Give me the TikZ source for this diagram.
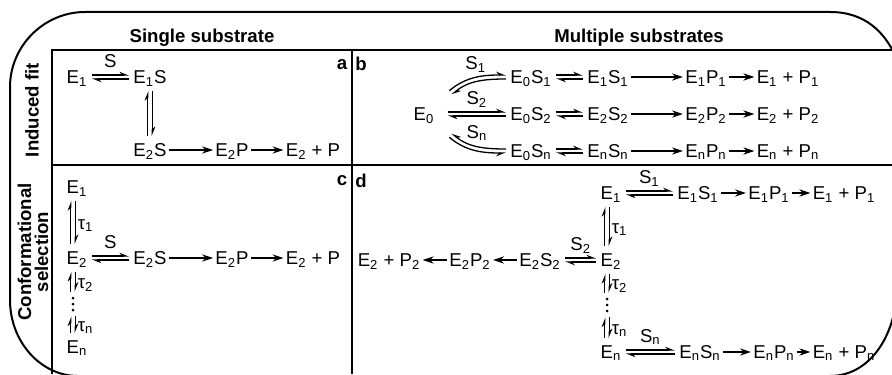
\documentclass[tikz,border=0pt]{standalone}
\usepackage{fontspec}
\setmainfont{Liberation Sans}
\usetikzlibrary{arrows.meta}
\newcommand{\sbs}[1]{\textsubscript{#1}}
\tikzstyle{sp} = [inner sep=1pt, text height=8pt, text depth=1.5pt]
\tikzstyle{lbl} = [inner sep=1pt, text height=8pt, text depth=1.5pt]
\tikzstyle{hdr} = [font=\fontsize{9.3}{11}\selectfont\bfseries]
\tikzstyle{fwd} = [-{Stealth[length=5.5pt, width=3.6pt]}, line width=0.65pt]
\tikzstyle{eq} = [-{Stealth[harpoon, length=4pt, width=3.2pt]}, line width=0.65pt, shorten <=1pt, shorten >=1pt]
\tikzstyle{eqs} = [-{Stealth[harpoon, swap, length=4pt, width=3.2pt]}, line width=0.65pt, shorten <=1pt, shorten >=1pt]
\tikzstyle{rim} = [line width=1pt]
\tikzstyle{tab} = [line width=1pt]

\begin{document}
\begin{tikzpicture}[x=0.5pt, y=0.5pt, every node/.style={font=\fontsize{9.3}{11}\selectfont}]
                \useasboundingbox (0,0) rectangle (892,-374);
                \clip (0,0) rectangle (892,-374);
                % outer frame and table
                \draw[rim] (897,-285) .. controls (897,-335) and (870,-376) .. (830,-376) -- (78,-376)
                    .. controls (41,-376) and (10,-342) .. (10,-300) -- (10,-87)
                    .. controls (10,-46) and (44,-12) .. (85,-12) -- (830,-12)
                    .. controls (865,-12) and (884,-32) .. (895,-55);
                \draw[tab] (52,-374) -- (52,-50) -- (892,-50);
                \draw[tab] (52,-165) -- (892,-165);
                \draw[tab] (352,-50) -- (352,-374);

                \node[hdr] (hs) at (202,-38) {Single substrate};
                \node[hdr] (hm) at (639,-38) {Multiple substrates};
                \node[hdr, rotate=90] (hi) at (32,-110) {Induced fit};
                \node[hdr, rotate=90, align=center, font=\fontsize{9.3}{8.6}\selectfont\bfseries] (hc) at (33,-252) {Conformational\\selection};
                \node[hdr] (la) at (342,-65) {a};
                \node[hdr] (lb) at (361,-64) {b};
                \node[hdr] (lc) at (342,-181) {c};
                \node[hdr] (ld) at (361,-181) {d};

                % a
                \node[sp] (a1) at (77,-77) {E\sbs{1}};
                \node[sp] (a1s) at (150,-77) {E\sbs{1}S};
                \node[sp] (a2s) at (150,-150) {E\sbs{2}S};
                \node[sp] (a2p) at (232,-150) {E\sbs{2}P};
                \node[sp] (a2f) at (313,-150) {E\sbs{2} + P};
                \draw[eq] ([yshift=1pt]a1.east) -- node[lbl, above=1pt] {S} ([yshift=1pt]a1s.west);
                \draw[eq] ([yshift=-1pt]a1s.west) -- ([yshift=-1pt]a1.east);
                \draw[eq] ([xshift=-1.1pt]a2s.north) -- ([xshift=-1.1pt]a1s.south);
                \draw[eq] ([xshift=1.1pt]a1s.south) -- ([xshift=1.1pt]a2s.north);
                \draw[fwd] (a2s) -- (a2p);
                \draw[fwd] (a2p) -- (a2f);

                % b
                \node[sp] (b0) at (424,-114) {E\sbs{0}};
                \foreach \r/\y in {1/77, 2/114, n/151} {
                    \node[sp] (bs\r) at (531,-\y) {E\sbs{0}S\sbs{\r}};
                    \node[sp] (be\r) at (608,-\y) {E\sbs{\r}S\sbs{\r}};
                    \node[sp] (bp\r) at (706,-\y) {E\sbs{\r}P\sbs{\r}};
                    \node[sp] (bf\r) at (788,-\y) {E\sbs{\r} + P\sbs{\r}};
                    \draw[eq] ([yshift=1pt]bs\r.east) -- ([yshift=1pt]be\r.west);
                    \draw[eq] ([yshift=-1pt]be\r.west) -- ([yshift=-1pt]bs\r.east);
                    \draw[fwd] (be\r) -- (bp\r);
                    \draw[fwd] (bp\r) -- (bf\r);
                }
                \draw[eq] ([shift={(11,22)}]b0.east) to[out=40, in=180] node[lbl, pos=0.5, above=1pt] {S\sbs{1}} ([yshift=1pt]bs1.west);
                \draw[eq] ([yshift=-1pt]bs1.west) to[out=180, in=40] ([shift={(13.5,18)}]b0.east);
                \draw[eq] ([shift={(9,2)}]b0.east) -- node[lbl, above=1pt] {S\sbs{2}} ([yshift=1pt]bs2.west);
                \draw[eq] ([yshift=-1pt]bs2.west) -- ([shift={(9,-2)}]b0.east);
                \draw[eqs] ([yshift=1pt]bsn.west) to[out=180, in=-40] node[lbl, pos=0.5, above=1pt] {S\sbs{n}} ([shift={(13.5,-18)}]b0.east);
                \draw[eqs] ([shift={(11,-22)}]b0.east) to[out=-40, in=180] ([yshift=-1pt]bsn.west);

                % c
                \node[sp] (c1) at (77,-187) {E\sbs{1}};
                \node[sp] (c2) at (77,-258) {E\sbs{2}};
                \node[inner sep=0, minimum height=10pt] (cdt) at (73,-304) {};
                \node[sp] (cn) at (77,-347) {E\sbs{n}};
                \node[sp] (c2s) at (150,-258) {E\sbs{2}S};
                \node[sp] (c2p) at (232,-258) {E\sbs{2}P};
                \node[sp] (c2f) at (313,-258) {E\sbs{2} + P};
                \foreach \d in {-3,0,3}
                    \fill ([yshift=\d pt]cdt.center) circle (0.75pt);
                \draw[eq] ([xshift=-3.1pt]c2.north) -- ([xshift=-3.1pt]c1.south);
                \draw[eq] ([xshift=-0.9pt]c1.south) -- node[lbl, right] {τ\sbs{1}} ([xshift=-0.9pt]c2.north);
                \draw[eq] ([xshift=-1.1pt]cdt.north) -- ([xshift=-3.1pt]c2.south);
                \draw[eq] ([xshift=-0.9pt]c2.south) -- node[lbl, right] {τ\sbs{2}} ([xshift=1.1pt]cdt.north);
                \draw[eq] ([xshift=-3.1pt]cn.north) -- ([xshift=-1.1pt]cdt.south);
                \draw[eq] ([xshift=1.1pt]cdt.south) -- node[lbl, right] {τ\sbs{n}} ([xshift=-0.9pt]cn.north);
                \draw[eq] ([yshift=1pt]c2.east) -- node[lbl, above=1pt] {S} ([yshift=1pt]c2s.west);
                \draw[eq] ([yshift=-1pt]c2s.west) -- ([yshift=-1pt]c2.east);
                \draw[fwd] (c2s) -- (c2p);
                \draw[fwd] (c2p) -- (c2f);

                % d
                \node[sp] (d1) at (611,-193) {E\sbs{1}};
                \node[sp] (d1s) at (698,-193) {E\sbs{1}S\sbs{1}};
                \node[sp] (d1p) at (769,-193) {E\sbs{1}P\sbs{1}};
                \node[sp] (d1f) at (844,-193) {E\sbs{1} + P\sbs{1}};
                \node[sp] (d2) at (611,-260) {E\sbs{2}};
                \node[sp] (d2s) at (540,-260) {E\sbs{2}S\sbs{2}};
                \node[sp] (d2p) at (470,-260) {E\sbs{2}P\sbs{2}};
                \node[sp] (d2f) at (389,-260) {E\sbs{2} + P\sbs{2}};
                \node[inner sep=0, minimum height=10pt] (ddt) at (607,-305) {};
                \node[sp] (dn) at (611,-352) {E\sbs{n}};
                \node[sp] (dns) at (700,-352) {E\sbs{n}S\sbs{n}};
                \node[sp] (dnp) at (774,-352) {E\sbs{n}P\sbs{n}};
                \node[sp] (dnf) at (844,-352) {E\sbs{n} + P\sbs{n}};
                \foreach \d in {-3,0,3}
                    \fill ([yshift=\d pt]ddt.center) circle (0.75pt);
                \draw[eq] ([xshift=-3.1pt]d2.north) -- ([xshift=-3.1pt]d1.south);
                \draw[eq] ([xshift=-0.9pt]d1.south) -- node[lbl, right] {τ\sbs{1}} ([xshift=-0.9pt]d2.north);
                \draw[eq] ([xshift=-1.1pt]ddt.north) -- ([xshift=-3.1pt]d2.south);
                \draw[eq] ([xshift=-0.9pt]d2.south) -- node[lbl, right] {τ\sbs{2}} ([xshift=1.1pt]ddt.north);
                \draw[eq] ([xshift=-3.1pt]dn.north) -- ([xshift=-1.1pt]ddt.south);
                \draw[eq] ([xshift=1.1pt]ddt.south) -- node[lbl, right] {τ\sbs{n}} ([xshift=-0.9pt]dn.north);
                \draw[eq] ([yshift=1pt]d1.east) -- node[lbl, above=1pt] {S\sbs{1}} ([yshift=1pt]d1s.west);
                \draw[eq] ([yshift=-1pt]d1s.west) -- ([yshift=-1pt]d1.east);
                \draw[fwd] (d1s) -- (d1p);
                \draw[fwd] (d1p) -- (d1f);
                \draw[eq] ([yshift=1pt]d2s.east) -- node[lbl, above=1pt] {S\sbs{2}} ([yshift=1pt]d2.west);
                \draw[eq] ([yshift=-1pt]d2.west) -- ([yshift=-1pt]d2s.east);
                \draw[fwd] (d2s) -- (d2p);
                \draw[fwd] (d2p) -- (d2f);
                \draw[eq] ([yshift=1pt]dn.east) -- node[lbl, above=1pt] {S\sbs{n}} ([yshift=1pt]dns.west);
                \draw[eq] ([yshift=-1pt]dns.west) -- ([yshift=-1pt]dn.east);
                \draw[fwd] (dns) -- (dnp);
                \draw[fwd] (dnp) -- (dnf);
            \end{tikzpicture}
\end{document}
